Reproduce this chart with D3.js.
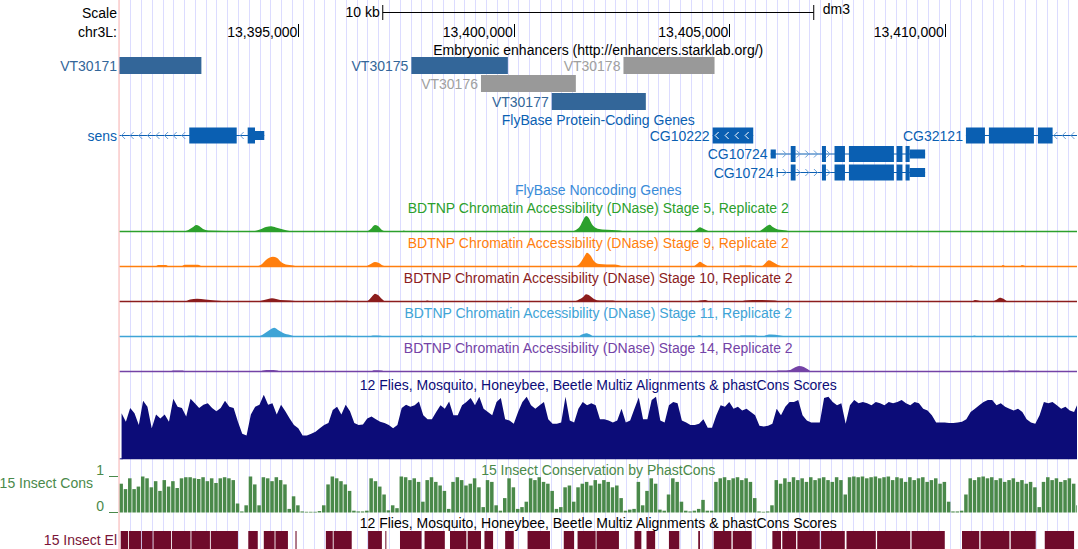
<!DOCTYPE html>
<html>
<head>
<meta charset="utf-8">
<script src="https://cdn.jsdelivr.net/npm/d3@7"></script>
<style>
  body { margin: 0; background: #fff; }
  svg { display: block; font-family: "Liberation Sans", Arial, Helvetica, sans-serif; font-size: 14px; }
</style>
</head>
<body>
<div id="main"></div>
<script>
// ---- window / ruler ----
const chrom = "chr3L:", assembly = "dm3";
const viewStart = 13390852, viewEnd = 13413068;
const rulerTicks = [13395000, 13400000, 13405000, 13410000];
const scaleBarBp = 10000;
const kbOrigin = 13390000; // signal tracks below are in kb from this position

// ---- Embryonic enhancers ----
const enhancerNames = ["VT30171", "VT30175", "VT30176", "VT30177", "VT30178"];
const enhancerStart = [13390800, 13397624, 13399239, 13400881, 13402545];
const enhancerEnd   = [13392752, 13399863, 13401440, 13403064, 13404658];
const enhancerActive = [true, true, false, true, false];

// ---- FlyBase protein coding genes ----
const geneNames  = ["sens", "CG10222", "CG10724", "CG10724", "CG32121"];
const geneStrand = ["-", "-", "+", "+", "-"];
const geneCdsStart = [13392471, 13404614, 13406426, 13406426, 13410491];
const geneCdsEnd   = [13393996, 13405556, 13409185, 13409185, 13412502];
const geneExons = [
  [[13389400, 13389700], [13392471, 13393571], [13393826, 13394211]],
  [[13404614, 13405556]],
  [[13405960, 13406080], [13406426, 13406538], [13407150, 13407243], [13407442, 13407684],
   [13407776, 13408820], [13408881, 13409018], [13409090, 13409544]],
  [[13406100, 13406125], [13406426, 13406538], [13407150, 13407243], [13407442, 13407684],
   [13407776, 13408820], [13408881, 13409018], [13409090, 13409544]],
  [[13410491, 13410932], [13411024, 13412068], [13412161, 13412502], [13413700, 13414000]]
];

// ---- BDTNP DNase signal, [kb, signal] ----
const dnaseStages = [5, 9, 10, 11, 14];
const dnaseS5 = [[0.85,0.5],[2.33,0.5],[2.45,2],[2.56,5],[2.63,7],[2.70,6],[2.79,3],[2.91,1.5],[3.32,1],[3.37,0.5],
  [3.93,0.5],[4.11,2.5],[4.25,5],[4.37,5.7],[4.48,4.5],[4.65,2.5],[4.83,0.8],[4.92,0.5],
  [6.57,0.5],[6.68,3],[6.78,7],[6.85,6],[6.94,2],[7.03,0.5],[7.40,0.5],[7.45,1.5],[7.50,0.5],
  [11.35,0.5],[11.44,2],[11.54,6],[11.61,12],[11.68,16],[11.74,14],[11.81,8],[11.91,4],[12.05,2.5],[12.28,2],[12.46,1.5],[12.58,0.5],
  [14.16,0.5],[14.25,2.5],[14.32,4.7],[14.41,3],[14.51,1],[14.60,0.5],
  [15.67,0.5],[15.78,3],[15.87,6],[15.94,7.3],[16.01,5],[16.13,2.5],[16.32,1.5],[16.41,0.5],
  [17.15,0.5],[17.20,1],[17.25,0.5],[20.30,0.5],[20.35,1],[21.60,1],[21.65,0.5],
  [22.12,0.5],[22.16,1],[22.39,1],[22.43,0.5],[23.07,0.5]];
const dnaseS9 = [[0.85,0.5],[1.68,0.5],[1.75,2],[1.93,2],[2.00,0.5],[2.28,0.5],[2.37,2.2],[2.67,2.3],[2.79,0.5],
  [4.02,0.5],[4.16,3],[4.25,7],[4.34,9.5],[4.41,10.3],[4.51,9],[4.60,5],[4.71,2.5],[4.88,1.5],[4.97,0.5],
  [6.55,0.5],[6.66,2.5],[6.78,5],[6.87,4],[6.96,1.5],[7.06,0.5],
  [11.42,0.5],[11.54,4],[11.63,10],[11.70,14.3],[11.77,12],[11.86,6],[11.98,3],[12.16,2.5],[12.35,2.5],[12.49,1],[12.58,0.5],
  [14.16,0.5],[14.25,3],[14.32,5.3],[14.41,3],[14.53,0.5],[15.18,0.5],[15.25,1.5],[15.50,1.5],[15.58,0.5],
  [15.74,0.5],[15.83,3.5],[15.92,6.7],[16.01,5],[16.13,2],[16.27,0.5],
  [17.15,0.5],[17.22,1],[18.50,1],[18.59,0.5],[19.17,0.5],[19.21,1.5],[19.35,0.5],
  [21.30,0.5],[21.35,2],[21.42,0.5],[21.74,0.5],[21.79,2],[21.91,0.5],[23.07,0.5]];
const dnaseS10 = [[0.85,0.5],[1.56,0.5],[1.72,1.2],[1.79,0.5],
  [2.35,0.5],[2.49,2.5],[2.65,3.3],[2.84,2.5],[3.07,1.5],[3.23,1],[3.32,0.5],
  [4.02,0.5],[4.16,1.5],[4.30,3],[4.39,3.7],[4.58,2],[4.81,1.5],[5.04,0.5],
  [5.74,0.5],[5.85,1.3],[6.15,1.3],[6.22,0.5],
  [6.57,0.5],[6.66,3],[6.73,6.5],[6.78,8.3],[6.85,7],[6.94,3],[7.03,0.5],
  [7.17,0.5],[7.24,1],[7.36,0.5],[7.92,0.5],[7.99,1.5],[8.08,0.5],
  [10.14,0.5],[10.26,1],[10.61,1],[10.84,0.5],
  [11.40,0.5],[11.51,2.5],[11.61,5],[11.68,7.7],[11.77,6],[11.86,3],[12.00,1.5],[12.30,1.5],[12.42,0.5],
  [12.79,0.5],[12.86,1],[13.04,1],[13.11,0.5],[14.23,0.5],[14.32,1.5],[14.44,2],[14.55,0.5],
  [15.27,0.5],[15.36,1.5],[15.71,2],[16.06,1.5],[16.18,0.5],
  [20.63,0.5],[20.70,2],[20.89,0.5],[21.09,0.5],[21.19,2],[21.28,4.3],[21.37,3],[21.47,0.5],[23.07,0.5]];
const dnaseS11 = [[0.85,0.5],[2.38,0.5],[2.45,1.2],[2.67,1.2],[2.74,0.5],[2.93,0.5],[3.00,1],[3.18,1],[3.25,0.5],
  [4.06,0.5],[4.18,2.5],[4.30,6],[4.37,8],[4.44,9.3],[4.53,7],[4.65,4],[4.81,2],[4.97,0.5],
  [5.62,0.5],[5.69,1.2],[6.20,1.2],[6.27,0.5],[6.64,0.5],[6.73,1.5],[6.92,1.2],[6.99,0.5],
  [7.82,0.5],[7.87,1.5],[7.94,0.5],
  [11.49,0.5],[11.58,2.5],[11.68,3.7],[11.77,2.5],[11.86,0.5],[12.07,0.5],[12.14,1],[12.44,1],[12.51,0.5],
  [12.79,0.5],[12.84,1],[12.95,0.5],[13.60,0.5],[13.65,1],[13.90,1],[13.95,0.5],
  [14.23,0.5],[14.30,2],[14.39,0.5],[15.20,0.5],[15.27,1.5],[15.62,1.5],[15.69,0.5],
  [15.78,0.5],[15.87,2],[15.97,2.5],[16.18,1.5],[16.32,0.5],
  [17.20,0.5],[17.25,1],[18.03,1],[18.10,0.5],[18.41,0.5],[18.45,1],[18.61,0.5],
  [20.63,0.5],[20.68,1.5],[20.79,0.5],[21.42,0.5],[21.47,1.5],[21.51,0.5],[21.91,0.5],[21.95,1],[22.07,0.5],[23.07,0.5]];
const dnaseS14 = [[0.85,0.3],[2.02,0.3],[2.09,1.5],[2.32,1.5],[2.39,0.3],
  [4.09,0.3],[4.18,1.5],[4.34,2],[4.51,1.5],[4.60,0.3],[4.83,0.3],[4.88,1],[4.92,0.3],
  [6.68,0.3],[6.75,1.7],[6.94,1.5],[7.01,0.3],
  [12.86,0.3],[12.90,1],[12.95,0.3],[14.27,0.3],[14.32,1],[14.39,0.3],[15.41,0.3],[15.48,1],[15.64,0.3],
  [16.06,0.3],[16.13,1.5],[16.32,1.5],[16.41,2],[16.50,4],[16.62,6],[16.73,5],[16.83,2.5],[16.92,0.3],
  [21.42,0.3],[21.49,1.5],[21.72,1.5],[21.79,0.3],[23.07,0.3]];

// ---- 12 flies conservation (0..1), 100 bp bins from 0.85 kb ----
const consStartKb = 0.85, consBinKb = 0.1;
const multizCons = [
  0.70,0.57,0.78,0.70,0.52,0.89,0.80,0.47,0.68,0.62, 0.68,0.57,0.92,0.80,0.78,0.65,0.92,0.85,0.78,0.83,
  0.85,0.78,0.73,0.78,0.89,0.80,0.78,0.57,0.39,0.36, 0.68,0.80,0.83,0.98,0.83,0.85,0.68,0.83,0.73,0.62,
  0.52,0.47,0.36,0.36,0.39,0.42,0.47,0.52,0.55,0.75, 0.80,0.68,0.83,0.73,0.55,0.52,0.53,0.62,0.65,0.61,
  0.57,0.55,0.52,0.47,0.52,0.78,0.83,0.80,0.82,0.88, 0.67,0.61,0.61,0.72,0.82,0.77,0.88,0.67,0.67,0.82,
  0.87,0.93,0.82,0.95,0.77,0.72,0.67,0.87,0.93,0.61, 0.59,0.54,0.72,0.87,0.95,0.82,0.77,0.82,0.87,0.61,
  0.54,0.54,0.56,0.95,0.59,0.56,0.77,0.87,0.82,0.85, 0.82,0.61,0.61,0.59,0.56,0.59,0.77,0.56,0.59,0.77,
  0.94,0.61,0.61,0.90,0.95,0.59,0.56,0.82,0.87,0.85, 0.59,0.56,0.52,0.52,0.54,0.61,0.48,0.48,0.67,0.82,
  0.80,0.87,0.77,0.80,0.74,0.77,0.72,0.67,0.51,0.50, 0.51,0.54,0.77,0.67,0.80,0.87,0.87,0.90,0.67,0.59,
  0.56,0.56,0.56,0.93,0.95,0.87,0.82,0.85,0.54,0.82, 0.90,0.85,0.87,0.85,0.82,0.87,0.85,0.82,0.87,0.85,
  0.87,0.90,0.85,0.82,0.87,0.85,0.77,0.74,0.67,0.56, 0.56,0.56,0.55,0.55,0.56,0.57,0.61,0.72,0.77,0.82,
  0.87,0.90,0.90,0.82,0.85,0.80,0.77,0.74,0.77,0.72, 0.61,0.56,0.54,0.67,0.87,0.85,0.87,0.82,0.77,0.80,
  0.74,0.72,0.87];

// ---- 15 insect phastCons (0..1), same bins ----
const phastCons = [
  0.80,0.65,0.95,0.65,0.72,1.00,0.95,0.70,0.87,0.60, 0.90,0.72,0.87,0.68,0.95,0.98,0.98,0.95,0.93,0.98,
  0.87,0.95,0.82,0.95,0.98,0.95,0.90,0.25,0.03,0.20, 1.00,0.78,0.20,0.98,0.95,0.87,0.98,0.90,0.78,0.10,
  0.45,0.20,0.03,0.02,0.02,0.02,0.04,0.20,0.78,1.00, 0.95,0.87,0.78,0.60,0.05,0.03,0.03,0.05,0.95,0.87,
  0.72,0.50,0.06,0.20,0.12,1.00,0.98,0.90,0.95,0.85, 0.30,0.90,0.98,0.85,0.75,0.60,0.10,0.85,0.98,0.90,
  0.75,0.80,0.95,0.70,0.15,0.90,0.85,0.20,0.05,0.40, 0.95,0.70,0.10,0.15,0.30,0.95,0.90,0.98,0.85,0.80,
  0.60,0.10,0.15,0.70,0.75,0.30,0.70,0.80,0.85,0.75, 0.90,0.80,0.90,0.85,0.70,0.75,0.40,0.05,0.08,0.10,
  0.85,0.20,0.60,0.95,0.80,0.08,0.05,0.50,0.95,0.85, 0.30,0.05,0.03,0.05,0.10,0.35,0.05,0.05,0.85,0.95,
  0.98,0.90,0.95,0.98,0.90,0.95,0.85,0.40,0.03,0.02, 0.03,0.20,0.90,0.80,0.95,0.85,0.98,0.90,0.95,0.85,
  0.98,0.90,0.95,0.98,0.90,0.85,0.98,0.90,0.50,0.98, 1.00,0.98,1.00,0.95,0.98,1.00,0.95,0.98,1.00,0.90,
  0.98,0.95,0.85,0.98,0.90,0.95,0.98,0.85,0.90,0.95, 0.80,0.85,0.30,0.03,0.03,0.05,0.50,0.95,0.90,0.98,
  1.00,0.95,0.98,0.90,0.95,0.85,0.90,0.95,0.85,0.90, 0.80,0.85,0.70,0.15,0.85,0.98,0.90,0.95,0.85,0.90,
  0.95,0.80,0.20];

// ---- 15 insect conserved elements, [startKb, endKb] ----
const insectElements = [
  [0.88,1.05],[1.07,1.35],[1.37,1.62],[1.64,2.05],[2.07,2.50],[2.52,2.95],[2.97,3.60],
  [3.84,4.06],[4.20,4.45],[4.47,4.76],[4.935,4.96],[5.64,5.80],[5.82,6.24],[6.62,6.94],[7.02,7.04],
  [7.36,7.86],[7.93,8.40],[8.52,8.90],[8.93,9.24],[9.32,9.52],[9.80,10.00],[10.32,10.84],
  [11.16,11.40],[11.48,11.90],[11.92,12.44],[12.80,12.96],[13.08,13.28],[13.60,13.84],[14.28,14.32],
  [14.64,15.05],[15.08,15.52],[16.00,16.20],[16.23,16.55],[16.58,17.10],[17.13,17.68],
  [17.72,18.40],[18.43,19.20],[19.23,20.00],[20.40,20.80],[20.83,21.50],[21.53,22.11],[22.32,23.00]];

// ---------------------------------------------------------------
const W = 1078, H = 549;
const left = 119.5, right = 1077;
const mid = (left + right) / 2;
const x = d3.scaleLinear().domain([viewStart, viewEnd]).range([left, right]);
const kb = v => kbOrigin + v * 1000;

const geneColor = "#0a5fb2";
const dnaseColors = ["#2ca02c", "#ff7f0e", "#8c1d1d", "#3fa4d6", "#7443a6"];

const ctx = document.createElement("canvas").getContext("2d");
ctx.font = "14px 'Liberation Sans', Arial, sans-serif";
const textW = s => ctx.measureText(s).width;

const svg = d3.select("#main").append("svg")
  .attr("width", W).attr("height", H);

svg.append("defs").append("clipPath").attr("id", "data")
  .append("rect").attr("x", left).attr("y", 0).attr("width", right - left).attr("height", H);

// guidelines
svg.append("g").selectAll("line")
  .data(d3.range(left + 10.75, right, 10.78))
  .join("line")
    .attr("x1", d => Math.round(d) + 0.5).attr("x2", d => Math.round(d) + 0.5)
    .attr("y1", 0).attr("y2", H)
    .attr("stroke", "#dcdcff");

svg.append("rect").attr("x", 118.3).attr("y", 0).attr("width", 1.5).attr("height", H).attr("fill", "#f9c9c9");

const plot = svg.append("g").attr("clip-path", "url(#data)");

function title(txt, y, color) {
  svg.append("text").attr("x", mid).attr("y", y).attr("text-anchor", "middle")
    .attr("fill", color).text(txt);
}
function sideLabel(txt, y, color, xr) {
  svg.append("text").attr("x", xr || 117).attr("y", y).attr("text-anchor", "end")
    .attr("fill", color || "#000").text(txt);
}

// ruler
sideLabel("Scale", 18);
sideLabel(chrom, 36.5);
const sbMid = (viewStart + viewEnd) / 2;
const sb0 = x(sbMid - scaleBarBp / 2), sb1 = x(sbMid + scaleBarBp / 2);
svg.append("line").attr("x1", sb0).attr("x2", sb1).attr("y1", 12.5).attr("y2", 12.5).attr("stroke", "#000");
[sb0, sb1].forEach(v => svg.append("line").attr("x1", v).attr("x2", v).attr("y1", 5).attr("y2", 20).attr("stroke", "#000"));
svg.append("text").attr("x", sb0 - 3).attr("y", 16.5).attr("text-anchor", "end").text(`${scaleBarBp / 1000} kb`);
svg.append("text").attr("x", sb1 + 9).attr("y", 14).text(assembly);

const fmt = d3.format(",");
rulerTicks.forEach(t => {
  svg.append("line").attr("x1", Math.round(x(t)) + 0.5).attr("x2", Math.round(x(t)) + 0.5)
    .attr("y1", 24).attr("y2", 37).attr("stroke", "#000");
  svg.append("text").attr("x", x(t) - 1).attr("y", 36.5).attr("text-anchor", "end").text(fmt(t));
});

// pack items into rows, leaving room for the label on the left
function pack(items) {
  const rowEnd = [];
  items.forEach(d => {
    const x0 = x(d.start);
    const lo = x0 <= left ? left : x0 - textW(d.name) - 4;
    let r = rowEnd.findIndex(e => e < lo);
    if (r < 0) { r = rowEnd.length; rowEnd.push(0); }
    rowEnd[r] = x(d.end) + 2;
    d.row = r;
  });
  return items;
}
function itemLabel(d, cy, color) {
  const x0 = x(d.start);
  svg.append("text").attr("x", x0 <= left ? 117 : x0 - 3).attr("y", cy + 5)
    .attr("text-anchor", "end").attr("fill", color).text(d.name);
}

// enhancers
title("Embryonic enhancers (http://enhancers.starklab.org/)", 54.5, "#000");
const enhancers = pack(enhancerNames.map((n, i) => ({
  name: n, start: enhancerStart[i], end: enhancerEnd[i], active: enhancerActive[i]
})));
enhancers.forEach(d => {
  const top = 57 + d.row * 18, color = d.active ? "#336699" : "#999999";
  plot.append("rect").attr("x", x(d.start)).attr("y", top)
    .attr("width", x(d.end) - x(d.start)).attr("height", 17).attr("fill", color);
  itemLabel(d, top + 8.5, d.active ? "#336699" : "#a0a0a0");
});

// genes
title("FlyBase Protein-Coding Genes", 124.5, geneColor);
const genes = pack(geneNames.map((n, i) => ({
  name: n, strand: geneStrand[i], cdsStart: geneCdsStart[i], cdsEnd: geneCdsEnd[i],
  exons: geneExons[i],
  start: d3.min(geneExons[i], e => e[0]), end: d3.max(geneExons[i], e => e[1])
})));

function chevron(g, px, cy, strand, color) {
  const s = strand === "-" ? 1 : -1;
  g.append("path")
    .attr("d", `M${px + 2 * s},${cy - 3.5}L${px - 1.5 * s},${cy}L${px + 2 * s},${cy + 3.5}`)
    .attr("fill", "none").attr("stroke", color).attr("stroke-width", 1);
}

genes.forEach(d => {
  const cy = 135.5 + d.row * 18.5;
  const g = plot.append("g");
  g.append("line").attr("x1", x(d.start)).attr("x2", x(d.end))
    .attr("y1", cy).attr("y2", cy).attr("stroke", geneColor);
  for (let k = 1; k < d.exons.length; k++) {
    const a = Math.max(x(d.exons[k - 1][1]), left), b = x(d.exons[k][0]);
    d3.range(b - 6, a + 2, -8.6).forEach(px => chevron(g, px, cy, d.strand, "#6a9fd8"));
  }
  d.exons.forEach(([s, e]) => {
    const parts = [];
    if (s < d.cdsStart) parts.push([s, Math.min(e, d.cdsStart), false]);
    const cs = Math.max(s, d.cdsStart), ce = Math.min(e, d.cdsEnd);
    if (cs < ce) parts.push([cs, ce, true]);
    if (e > d.cdsEnd) parts.push([Math.max(s, d.cdsEnd), e, false]);
    parts.forEach(([ps, pe, cds]) => {
      const h = cds ? 16 : 9;
      g.append("rect").attr("x", x(ps)).attr("y", cy - h / 2)
        .attr("width", Math.max(1, x(pe) - x(ps))).attr("height", h).attr("fill", geneColor);
    });
  });
  if (d.exons.length === 1) {
    const [s, e] = d.exons[0];
    d3.range(x(s) + 4, x(e) - 3, 10).forEach(px => chevron(g, px, cy, d.strand, "#fff"));
  }
  itemLabel(d, cy, geneColor);
});

title("FlyBase Noncoding Genes", 194.5, "#3a8cd8");

// DNase tracks
const dnaseData = [dnaseS5, dnaseS9, dnaseS10, dnaseS11, dnaseS14];
dnaseStages.forEach((st, i) => {
  const base = 232 + i * 35;
  title(`BDTNP Chromatin Accessibility (DNase) Stage ${st}, Replicate 2`, base - 19, dnaseColors[i]);
  const y = d3.scaleLinear().domain([0, 20]).range([base, base - 20]);
  plot.append("path").datum(dnaseData[i])
    .attr("d", d3.area().x(p => x(kb(p[0]))).y0(base).y1(p => y(p[1])).curve(d3.curveMonotoneX))
    .attr("fill", dnaseColors[i]);
  plot.append("line").attr("x1", left).attr("x2", right).attr("y1", base - 0.5).attr("y2", base - 0.5)
    .attr("stroke", dnaseColors[i]).attr("stroke-width", 1.3);
});

// 12 flies multiz conservation, drawn as a jagged area through bin centres
const navy = "#0c0c78";
title("12 Flies, Mosquito, Honeybee, Beetle Multiz Alignments & phastCons Scores", 389.5, navy);
const yCons = d3.scaleLinear().domain([0, 1]).range([459.3, 393.5]);
const binMid = i => x(kb(consStartKb + (i + 0.5) * consBinKb));
plot.append("path").datum(multizCons)
  .attr("d", d3.area().x((v, i) => binMid(i)).y0(yCons(0)).y1(v => yCons(v)))
  .attr("fill", navy);
plot.append("rect").attr("x", left).attr("y", yCons(0) - 1).attr("width", binMid(0) - left + 1)
  .attr("height", 1).attr("fill", navy);

// 15 insect phastCons
const green = "#4a894a";
title("15 Insect Conservation by PhastCons", 474.5, green);
const yPc = d3.scaleLinear().domain([0, 1]).range([512.5, 476.5]);
plot.append("g").selectAll("rect").data(phastCons).join("rect")
  .attr("x", (v, i) => x(kb(consStartKb + i * consBinKb)))
  .attr("width", x(kb(consBinKb)) - x(kb(0)) - 0.8)
  .attr("y", v => yPc(v))
  .attr("height", v => yPc(0) - yPc(v))
  .attr("fill", green);
sideLabel("15 Insect Cons", 488, green, 93);
[[1, "1"], [0, "0"]].forEach(([v, t]) => {
  svg.append("text").attr("x", 104).attr("y", yPc(v) - 2).attr("text-anchor", "end").attr("fill", green).text(t);
  svg.append("line").attr("x1", 109).attr("x2", 118).attr("y1", yPc(v)).attr("y2", yPc(v)).attr("stroke", green);
});

// 15 insect elements
const maroon = "#6f0b2b";
title("12 Flies, Mosquito, Honeybee, Beetle Multiz Alignments & phastCons Scores", 528, "#000");
plot.append("g").selectAll("rect").data(insectElements).join("rect")
  .attr("x", d => x(kb(d[0])))
  .attr("width", d => Math.max(1, x(kb(d[1])) - x(kb(d[0]))))
  .attr("y", 531).attr("height", 18)
  .attr("fill", maroon);
sideLabel("15 Insect El", 545, "#7a1538");
</script>
</body>
</html>
